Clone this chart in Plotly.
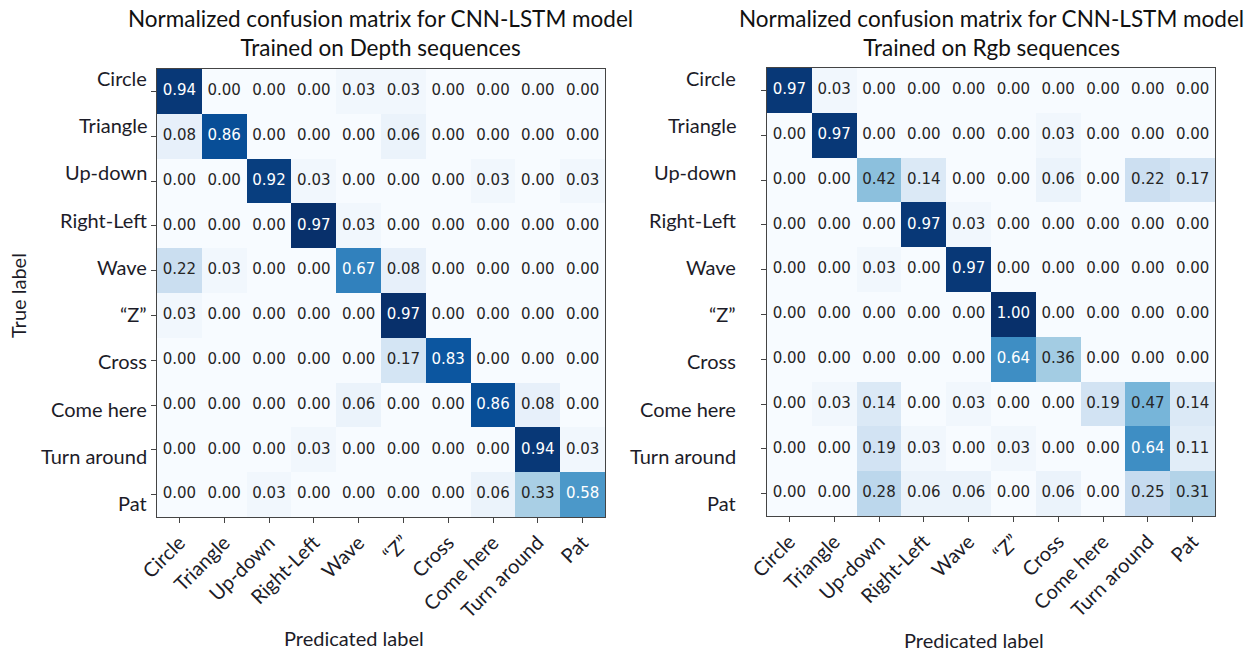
import plotly.graph_objects as go

categories = ["Circle", "Triangle", "Up-down", "Right-Left", "Wave", "\u201cZ\u201d",
              "Cross", "Come here", "Turn around", "Pat"]

depth_values = [
    [0.94, 0.00, 0.00, 0.00, 0.03, 0.03, 0.00, 0.00, 0.00, 0.00],
    [0.08, 0.86, 0.00, 0.00, 0.00, 0.06, 0.00, 0.00, 0.00, 0.00],
    [0.00, 0.00, 0.92, 0.03, 0.00, 0.00, 0.00, 0.03, 0.00, 0.03],
    [0.00, 0.00, 0.00, 0.97, 0.03, 0.00, 0.00, 0.00, 0.00, 0.00],
    [0.22, 0.03, 0.00, 0.00, 0.67, 0.08, 0.00, 0.00, 0.00, 0.00],
    [0.03, 0.00, 0.00, 0.00, 0.00, 0.97, 0.00, 0.00, 0.00, 0.00],
    [0.00, 0.00, 0.00, 0.00, 0.00, 0.17, 0.83, 0.00, 0.00, 0.00],
    [0.00, 0.00, 0.00, 0.00, 0.06, 0.00, 0.00, 0.86, 0.08, 0.00],
    [0.00, 0.00, 0.00, 0.03, 0.00, 0.00, 0.00, 0.00, 0.94, 0.03],
    [0.00, 0.00, 0.03, 0.00, 0.00, 0.00, 0.00, 0.06, 0.33, 0.58],
]

rgb_values = [
    [0.97, 0.03, 0.00, 0.00, 0.00, 0.00, 0.00, 0.00, 0.00, 0.00],
    [0.00, 0.97, 0.00, 0.00, 0.00, 0.00, 0.03, 0.00, 0.00, 0.00],
    [0.00, 0.00, 0.42, 0.14, 0.00, 0.00, 0.06, 0.00, 0.22, 0.17],
    [0.00, 0.00, 0.00, 0.97, 0.03, 0.00, 0.00, 0.00, 0.00, 0.00],
    [0.00, 0.00, 0.03, 0.00, 0.97, 0.00, 0.00, 0.00, 0.00, 0.00],
    [0.00, 0.00, 0.00, 0.00, 0.00, 1.00, 0.00, 0.00, 0.00, 0.00],
    [0.00, 0.00, 0.00, 0.00, 0.00, 0.64, 0.36, 0.00, 0.00, 0.00],
    [0.00, 0.03, 0.14, 0.00, 0.03, 0.00, 0.00, 0.19, 0.47, 0.14],
    [0.00, 0.00, 0.19, 0.03, 0.00, 0.03, 0.00, 0.00, 0.64, 0.11],
    [0.00, 0.00, 0.28, 0.06, 0.06, 0.00, 0.06, 0.00, 0.25, 0.31],
]

titles = ["Normalized confusion matrix for CNN-LSTM model<br>Trained on Depth sequences",
          "Normalized confusion matrix for CNN-LSTM model<br>Trained on Rgb sequences"]

blues = [[0.0, "#f7fbff"], [0.125, "#deebf7"], [0.25, "#c6dbef"], [0.375, "#9ecae1"],
         [0.5, "#6baed6"], [0.625, "#4292c6"], [0.75, "#2171b5"], [0.875, "#08519c"],
         [1.0, "#08306b"]]

W, H = 1258, 652
LBL_FONT = "Lato, 'Open Sans', sans-serif"
LBL_COLOR = "#1c1c28"

panels = [
    dict(z=depth_values, x0=157, x1=605, y0=69, y1=517, lab_right=149, xlab=354, ylab=638),
    dict(z=rgb_values, x0=767, x1=1215, y0=68, y1=516, lab_right=738, xlab=974, ylab=640),
]
# row-label band (labels in the reference are spread a bit wider than the rows)
LABEL_TOP, LABEL_BOTTOM = 78, 503

fig = go.Figure()
n = len(categories)
for i, p in enumerate(panels):
    xa = "x" + ("" if i == 0 else str(i + 1))
    ya = "y" + ("" if i == 0 else str(i + 1))
    z = p["z"]
    zmax = max(max(r) for r in z)
    fig.add_trace(go.Heatmap(
        z=z, x=categories, y=categories, colorscale=blues, zmin=0, zmax=zmax,
        showscale=False, xaxis=xa, yaxis=ya, hoverinfo="skip"))
    xs, ys, ts, cs = [], [], [], []
    for r, row in enumerate(z):
        for c, v in enumerate(row):
            xs.append(categories[c]); ys.append(categories[r])
            ts.append(f"{v:.2f}")
            cs.append("white" if v > zmax / 2 else "#262626")
    fig.add_trace(go.Scatter(
        x=xs, y=ys, text=ts, mode="text", textposition="middle center",
        textfont=dict(family="DejaVu Sans", size=15, color=cs),
        xaxis=xa, yaxis=ya, hoverinfo="skip", showlegend=False))
    xd = [p["x0"] / W, p["x1"] / W]
    yd = [1 - p["y1"] / H, 1 - p["y0"] / H]
    axcommon = dict(showline=True, mirror=True, linecolor="#444", linewidth=1.2,
                    ticks="outside", ticklen=5, tickcolor="#444", showgrid=False,
                    zeroline=False, type="category", categoryorder="array",
                    categoryarray=categories, automargin=False)
    fig.layout[xa.replace("x", "xaxis")] = dict(
        domain=xd, anchor=ya, tickangle=-45, range=[-0.5, n - 0.5],
        tickfont=dict(family=LBL_FONT, size=20, color=LBL_COLOR), **axcommon)
    fig.layout[ya.replace("y", "yaxis")] = dict(
        domain=yd, anchor=xa, range=[n - 0.5, -0.5], showticklabels=False, **axcommon)
    # row labels (placed as in the reference, slightly offset from the rows)
    step = (LABEL_BOTTOM - LABEL_TOP) / (n - 1)
    for k, name in enumerate(categories):
        fig.add_annotation(text=name, x=p["lab_right"] / W,
                           y=1 - (LABEL_TOP + k * step) / H,
                           xref="paper", yref="paper", showarrow=False,
                           xanchor="right", yanchor="middle",
                           font=dict(family=LBL_FONT, size=20, color=LBL_COLOR))
    cx = (p["x0"] + p["x1"]) / 2 / W
    fig.add_annotation(text=titles[i], x=cx, y=1 - 33 / H, xref="paper", yref="paper",
                       showarrow=False, font=dict(family=LBL_FONT, size=22.5, color="#111"),
                       xanchor="center", yanchor="middle")
    fig.add_annotation(text="Predicated label", x=p["xlab"] / W,
                       y=1 - p["ylab"] / H, xref="paper", yref="paper", showarrow=False,
                       font=dict(family=LBL_FONT, size=20, color=LBL_COLOR),
                       xanchor="center", yanchor="middle")

fig.add_annotation(text="True label", x=18 / W, y=1 - 296 / H, xref="paper", yref="paper",
                   showarrow=False, textangle=-90,
                   font=dict(family=LBL_FONT, size=20, color=LBL_COLOR),
                   xanchor="center", yanchor="middle")

fig.update_layout(width=W, height=H, autosize=False,
                  margin=dict(l=0, r=0, t=0, b=0, autoexpand=False),
                  paper_bgcolor="white", plot_bgcolor="white", showlegend=False)

fig.write_html("out.html", config={"displayModeBar": False},
               post_script="document.body.style.margin='0';document.body.style.overflow='hidden';")
